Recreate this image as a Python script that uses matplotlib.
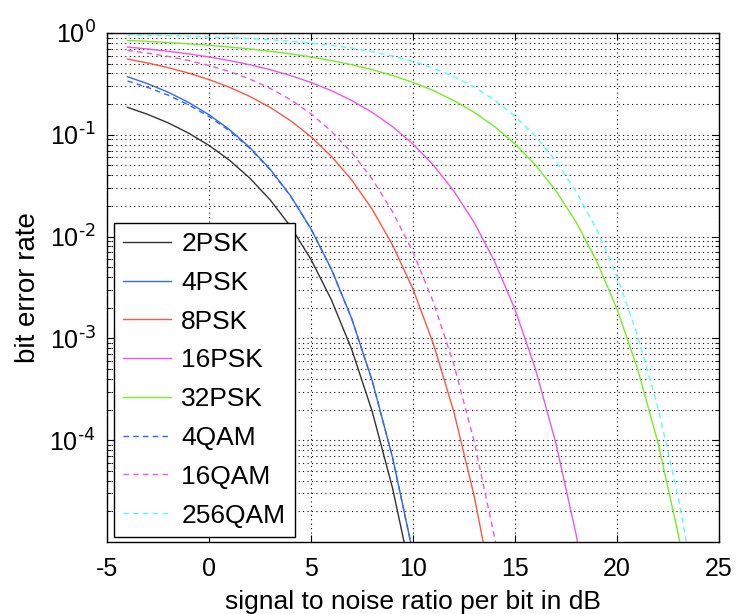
import matplotlib
matplotlib.use("Agg")
import matplotlib.pyplot as plt
from matplotlib.ticker import LogLocator, NullFormatter, FixedLocator

plt.rcParams['font.family'] = ['Liberation Sans', 'DejaVu Sans']

snr_db = [-4, -3, -2, -1, 0, 1, 2, 3, 4, 5, 6, 7, 8, 9, 10, 11, 12, 13, 14, 15,
          16, 17, 18, 19, 20, 21, 22, 23, 24]

ber_2psk = [0.1862, 0.1584, 0.1309, 0.1038, 0.0786, 0.0563, 0.0375, 0.0229, 0.01255,
            0.00595, 0.00239, 0.000773, 0.000191, 3.36e-5, 3.87e-6]
ber_4psk = [0.3724, 0.3168, 0.2618, 0.2076, 0.1573, 0.1126, 0.0750, 0.0458, 0.0251,
            0.0119, 0.00478, 0.00155, 0.000382, 6.72e-5, 7.74e-6]
ber_8psk = [0.5542, 0.5070, 0.4564, 0.4035, 0.3486, 0.2930, 0.2380, 0.1855, 0.1374,
            0.0956, 0.0614, 0.0359, 0.01854, 0.00824, 0.00304, 0.000880, 0.000190,
            2.82e-5, 2.62e-6]
ber_16psk = [0.7277, 0.6960, 0.6612, 0.6229, 0.5812, 0.5358, 0.4871, 0.4355, 0.3819,
             0.3264, 0.2713, 0.2166, 0.1658, 0.1199, 0.0810, 0.0503, 0.0280, 0.01371,
             0.00568, 0.00192, 0.000500, 9.38e-5, 1.17e-5, 8.7e-7]
ber_32psk = [0.8450, 0.8264, 0.8056, 0.7824, 0.7566, 0.7280, 0.6964, 0.6616, 0.6233,
             0.5817, 0.5363, 0.4878, 0.4362, 0.3824, 0.3270, 0.2716, 0.2171, 0.1663,
             0.1203, 0.0813, 0.0505, 0.0282, 0.01382, 0.00574, 0.00194, 0.000506,
             9.54e-5, 1.20e-5, 9.0e-7]
ber_4qam = [0.3377, 0.2917, 0.2447, 0.1968, 0.1511, 0.1094, 0.0736, 0.0453, 0.0249,
            0.01187, 0.00477, 0.00155, 0.000382, 6.72e-5, 7.74e-6]
ber_16qam = [0.6743, 0.6338, 0.5881, 0.5364, 0.4793, 0.4177, 0.3523, 0.2856, 0.2208,
             0.1606, 0.1083, 0.0667, 0.0367, 0.0175, 0.00701, 0.00226, 0.000555,
             9.69e-5, 1.10e-5, 7.4e-7]
ber_256qam = [0.9574, 0.9500, 0.9410, 0.9301, 0.9168, 0.9007, 0.8815, 0.8581, 0.8301,
              0.7964, 0.7566, 0.7099, 0.6558, 0.5942, 0.5257, 0.4511, 0.3729, 0.2942,
              0.2193, 0.1519, 0.0969, 0.0552, 0.0276, 0.01171, 0.00405, 0.00108,
              2.11e-4, 2.76e-5, 2.18e-6]

labels = ['2PSK', '4PSK', '8PSK', '16PSK', '32PSK', '4QAM', '16QAM', '256QAM']
series = [ber_2psk, ber_4psk, ber_8psk, ber_16psk, ber_32psk, ber_4qam, ber_16qam, ber_256qam]
colors = ['#333333', '#3366ff', '#ff5544', '#ee55ee', '#77ee22', '#3366ff', '#ee55ee', '#55ffff']
styles = ['-', '-', '-', '-', '-', '--', '--', '--']

xticks = [-5, 0, 5, 10, 15, 20, 25]
ytick_exps = [0, -1, -2, -3, -4]

fig = plt.figure(figsize=(7.39, 6.14), dpi=100)
ax = fig.add_axes([0.1448, 0.1173, 0.8282, 0.829])

for lab, ys, c, ls in zip(labels, series, colors, styles):
    ax.semilogy(snr_db[:len(ys)], ys, color=c, linestyle=ls, linewidth=1.0, label=lab,
                dashes=(4, 3) if ls == '--' else (None, None))

ax.set_xlim(-5, 25)
ax.set_ylim(1e-5, 1)
ax.set_xticks(xticks)
ax.set_xticklabels([str(v) for v in xticks])
ax.yaxis.set_major_locator(FixedLocator([10.0 ** e for e in ytick_exps]))
ax.set_yticklabels([r'$\mathregular{10^{\text{%s}}}$' % str(e) for e in ytick_exps])
ax.yaxis.set_minor_locator(LogLocator(base=10, subs=range(2, 10), numticks=20))
ax.yaxis.set_minor_formatter(NullFormatter())

ax.grid(True, which='major', axis='both', color='black', linestyle=(0, (1, 3)), linewidth=0.8)
ax.grid(True, which='minor', axis='y', color='black', linestyle=(0, (1, 3)), linewidth=0.8)

ax.tick_params(which='both', direction='in', top=True, right=True)
ax.tick_params(axis='x', pad=11, labelsize=18)
ax.tick_params(axis='y', pad=8, labelsize=18)
ax.tick_params(which='major', length=5)
ax.tick_params(which='minor', length=3)
for s in ax.spines.values():
    s.set_linewidth(1.0)

ax.set_xlabel('signal to noise ratio per bit in dB', fontsize=19, labelpad=6)
ax.set_ylabel('bit error rate', fontsize=20, labelpad=6)

leg = ax.legend(loc='upper left', bbox_to_anchor=(0.0114, 0.627), fontsize=19,
                frameon=True, fancybox=False, edgecolor='black', framealpha=1,
                handlelength=1.8, handletextpad=0.4, labelspacing=0.56, borderpad=0.35,
                borderaxespad=0)
leg.get_frame().set_linewidth(1.0)

fig.savefig('out.png', dpi=100)
